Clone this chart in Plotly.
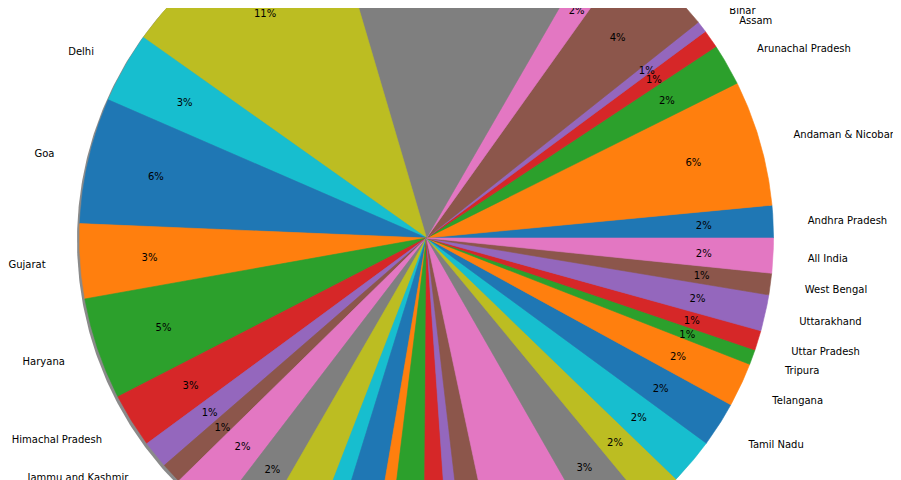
import numpy as np
import plotly.graph_objs as go

# slice order as drawn: counterclockwise, starting at 3 o'clock
states = ['Andhra Pradesh', 'Andaman & Nicobar', 'Arunachal Pradesh', 'Assam', 'Bihar',
          'Chandigarh', 'Chhattisgarh', 'Dadra & Nagar Haveli', 'Daman & Diu', 'Delhi',
          'Goa', 'Gujarat', 'Haryana', 'Himachal Pradesh', 'Jammu and Kashmir',
          'Jharkhand', 'Karnataka', 'Kerala', 'Lakshadweep', 'Madhya Pradesh',
          'Maharashtra', 'Manipur', 'Meghalaya', 'Mizoram', 'Nagaland',
          'Odisha', 'Puducherry', 'Punjab', 'Rajasthan', 'Sikkim',
          'Tamil Nadu', 'Telangana', 'Tripura', 'Uttar Pradesh', 'Uttarakhand',
          'West Bengal', 'All India']

values = [1.51, 5.85, 1.94, 0.85, 0.53,
          4.46, 1.53, 12.89, 10.63, 3.29,
          5.86, 3.47, 4.75, 2.53, 1.28,
          0.97, 2.26, 2.07, 2.47, 1.08,
          2.08, 0.75, 1.83, 1.22, 0.75,
          1.50, 4.92, 2.72, 1.79, 2.15,
          2.09, 2.05, 0.70, 0.92, 1.69,
          1.00, 1.62]

# matplotlib tab10 cycle
palette = ['#1f77b4', '#ff7f0e', '#2ca02c', '#d62728', '#9467bd',
           '#8c564b', '#e377c2', '#7f7f7f', '#bcbd22', '#17becf']

# pie geometry (unit radius) and how much of it the window shows
# (page body has an 8px margin, so the figure is shifted by that)
R = 1.0
px = 347.0              # pixels per unit radius
pad = 8
W, H = 901 - pad, 480 - pad
cx, cy = 426.5 - pad, 238 - pad   # pie centre inside the figure

total = float(sum(values))
cum = np.concatenate([[0.0], np.cumsum(values)]) / total * 360.0

fig = go.Figure()

# shadow (matplotlib shadow=True), slightly offset down-left
t = np.radians(np.linspace(0, 360, 721))
off = 2.5 / px
fig.add_trace(go.Scatter(x=-off + R * np.cos(t), y=-off + R * np.sin(t),
                         mode='lines', fill='toself', fillcolor='#8a8a8a',
                         line=dict(width=0, color='#8a8a8a'), hoverinfo='skip'))

# wedges
for i, name in enumerate(states):
    a0, a1 = cum[i], cum[i + 1]
    n = max(3, int((a1 - a0) * 3) + 2)
    th = np.radians(np.linspace(a0, a1, n))
    xs = np.concatenate([[0], R * np.cos(th), [0]])
    ys = np.concatenate([[0], R * np.sin(th), [0]])
    c = palette[i % 10]
    fig.add_trace(go.Scatter(x=xs, y=ys, mode='lines', fill='toself', fillcolor=c,
                             line=dict(width=0.6, color=c), name=name,
                             hoverinfo='name'))

# labels at 1.1 R, percentages at 0.8 R
mid = np.radians((cum[:-1] + cum[1:]) / 2)
nudge = 2 / px                  # plotly centres text a touch higher than mpl
top = (cy - 3) / px             # highest spot where a text still shows on the page
edge = (cy + 8) / px            # texts above this are off-page in the original too


def keep_on_page(y):
    # texts that only just touch the top edge get pulled down into view
    return np.where((y > top) & (y < edge), top, y)


lx = 1.1 * R * np.cos(mid)
ly = keep_on_page(1.1 * R * np.sin(mid) - nudge)
right = lx >= 0
font = dict(family='DejaVu Sans', size=10, color='black')

fig.add_trace(go.Scatter(x=lx[right], y=ly[right], mode='text',
                         text=[s for s, r in zip(states, right) if r],
                         textposition='middle right', textfont=font, hoverinfo='skip'))
fig.add_trace(go.Scatter(x=lx[~right], y=ly[~right], mode='text',
                         text=[s for s, r in zip(states, right) if not r],
                         textposition='middle left', textfont=font, hoverinfo='skip'))

pct = ['%1.0f%%' % (v / total * 100) for v in values]
py = keep_on_page(0.8 * R * np.sin(mid) - nudge)
fig.add_trace(go.Scatter(x=0.8 * R * np.cos(mid), y=py, mode='text',
                         text=pct, textposition='middle center', textfont=font,
                         hoverinfo='skip'))

fig.update_layout(
    width=W, height=H,
    margin=dict(l=0, r=0, t=0, b=0),
    showlegend=False,
    paper_bgcolor='white', plot_bgcolor='white',
    xaxis=dict(visible=False, range=[-cx / px, (W - cx) / px]),
    yaxis=dict(visible=False, range=[-(H - cy) / px, cy / px]),
)

fig.write_html("out.html")
